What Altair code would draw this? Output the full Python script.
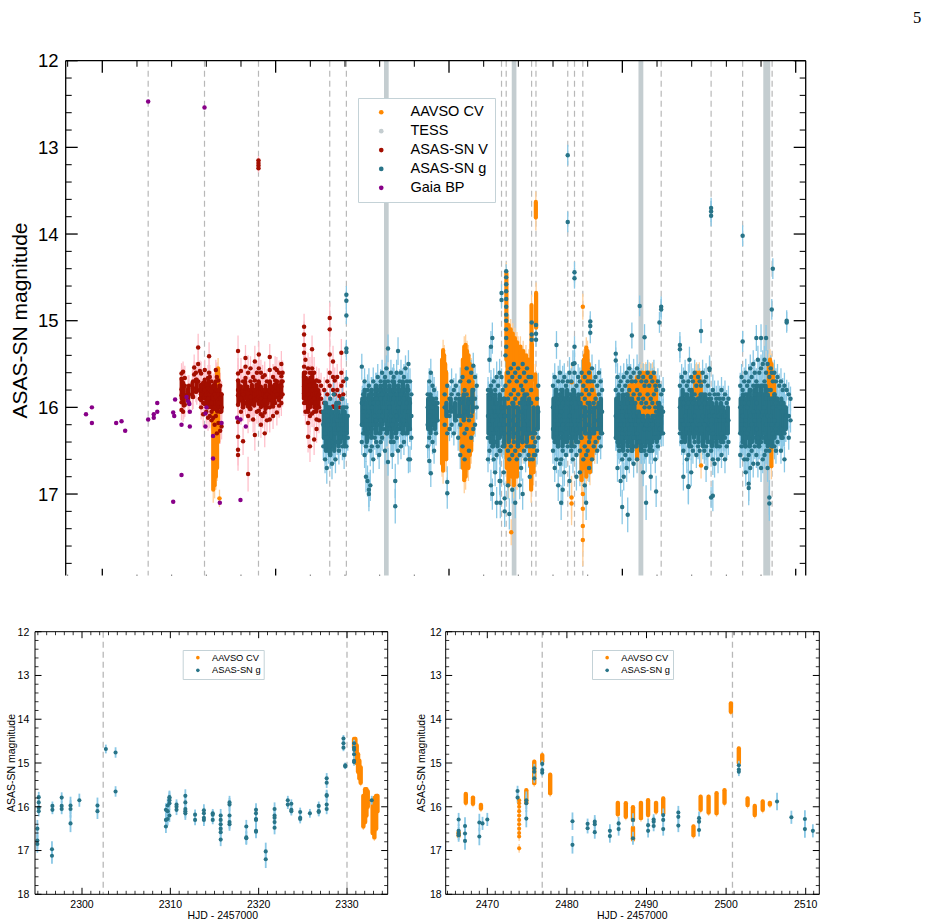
import altair as alt
import pandas as pd

FONT = "Liberation Sans"
C_AAVSO = "#ff8800"
C_AAVSO_ERR = "#ffcf99"
C_TESS = "#c4cdd0"
C_V = "#a30e00"
C_V_ERR = "#ffc0cb"
C_G = "#287488"
C_G_ERR = "#8ac8e6"
C_GAIA = "#880088"
C_DASH = "#b8b8b8"

SERIES = ["AAVSO CV", "TESS", "ASAS-SN V", "ASAS-SN g", "Gaia BP"]
COLORS = [C_AAVSO, C_TESS, C_V, C_G, C_GAIA]

# ------------------------------------------------------------------ top panel data
# times are HJD - 2457000, values are magnitudes
GAIA = [[-94, 16.08], [-60, 16.0], [-60, 16.18], [80, 16.18], [111, 16.16], [132, 16.27],
        [264.6, 16.14], [264.6, 12.47], [297, 16.08], [297, 16.12], [317, 16.05], [317, 15.95],
        [409, 16.06], [415, 16.1], [420, 15.91], [457, 16.2], [457, 16.78], [409, 17.09],
        [486, 15.88], [495, 15.93], [502, 15.96], [505, 16.05], [505, 16.22], [589.6, 12.54],
        [595, 16.22], [595, 16.07], [601, 16.0], [639, 16.33], [639, 16.59], [678, 17.1],
        [688, 16.18], [778, 16.12], [797, 16.14], [828, 16.22], [797, 17.07]]

# ASAS-SN V epochs: [t, err, mag, mag, ...]
ASASSN_V = [
    [457, 0.12, 15.61, 15.67, 15.79, 15.86, 15.94, 16.03], [466, 0.12, 15.59, 15.72, 15.82, 16.05],
    [476, 0.14, 15.66, 15.75, 15.86, 15.97], [500, 0.12, 15.75, 15.85, 15.95],
    [524, 0.14, 15.7, 15.78, 15.88], [530, 0.15, 15.54, 15.62], [540, 0.12, 15.6, 15.68, 15.82],
    [553, 0.16, 15.31, 15.5, 15.7], [563, 0.12, 15.58, 15.8, 15.9], [570, 0.14, 15.61, 15.74, 15.85, 16.0],
    [582, 0.15, 15.72, 15.95, 16.08], [591, 0.12, 15.57, 15.68, 15.8, 15.96],
    [600, 0.14, 15.73, 15.85, 15.94, 16.05], [610, 0.15, 15.66, 15.78, 15.9, 16.0, 16.12],
    [616, 0.16, 15.41, 15.6, 15.7, 15.85], [620, 0.14, 15.65, 15.8, 15.99, 16.1],
    [630, 0.12, 15.7, 15.82, 15.95, 16.05, 16.15], [640, 0.14, 15.75, 15.9, 16.02, 16.12],
    [648, 0.15, 15.73, 15.85, 16.0, 16.2], [655, 0.12, 15.57, 15.7, 15.88, 16.1],
    [661, 0.16, 15.65, 15.8, 16.03, 16.3], [670, 0.14, 15.69, 15.8, 15.95, 16.18],
    [680, 0.15, 15.75, 15.9, 16.05, 16.27], [688, 0.15, 15.85, 16.0, 16.22],
    [783, 0.18, 15.35, 15.61, 15.69, 15.8, 15.86, 15.97, 16.17, 16.34, 16.49, 16.55],
    [800, 0.15, 15.58, 15.76, 15.9, 16.05], [812, 0.16, 15.7, 15.85, 16.0, 16.39],
    [826, 0.15, 15.43, 15.53, 15.66, 15.78, 15.95], [841, 0.2, 15.6, 15.84, 15.99, 16.1, 16.77],
    [855, 0.14, 15.55, 15.7, 15.88, 16.02], [870, 0.15, 15.65, 15.8, 15.95, 16.14],
    [880, 0.18, 15.47, 15.69, 15.8, 15.92, 16.32], [892, 0.14, 15.6, 15.75, 15.9, 16.05],
    [901, 0.05, 13.15, 13.18, 13.21, 13.24],
    [903, 0.15, 15.39, 15.55, 15.72, 15.88, 16.04], [915, 0.15, 15.6, 15.78, 15.9, 16.08, 16.2],
    [925, 0.14, 15.65, 15.8, 15.95, 16.1], [937, 0.16, 15.63, 15.8, 15.92, 16.06, 16.3],
    [950, 0.14, 15.7, 15.85, 16.0, 16.15], [966, 0.15, 15.42, 15.57, 15.72, 15.88, 16.0, 16.14],
    [985, 0.15, 15.65, 15.8, 15.99, 16.1], [997, 0.14, 15.55, 15.69, 15.82, 15.95],
    [1007, 0.15, 15.57, 15.7, 15.85, 16.06], [1020, 0.14, 15.6, 15.75, 15.9, 15.98],
    [1033, 0.15, 15.5, 15.64, 15.76, 15.95], [1040, 0.14, 15.6, 15.7, 15.85],
    [1164, 0.15, 15.07, 15.16, 15.28, 15.37, 15.53, 15.65, 15.76, 15.84, 15.95],
    [1172, 0.15, 15.45, 15.6, 15.72, 15.9, 16.05], [1187, 0.18, 15.55, 15.7, 15.85, 16.05, 16.18, 16.34],
    [1198, 0.18, 15.6, 15.75, 15.9, 16.1, 16.45], [1210, 0.16, 15.33, 15.55, 15.69, 15.8, 15.92, 16.07],
    [1222, 0.18, 15.6, 15.75, 15.9, 16.05, 16.37], [1236, 0.16, 15.69, 15.84, 15.99, 16.14, 16.25],
    [1250, 0.15, 15.7, 15.85, 16.0, 16.15], [1262, 0.15, 15.75, 15.9, 16.05],
    [1280, 0.15, 15.8, 15.95, 16.1], [1298, 0.15, 15.7, 15.85, 16.0],
    [1312, 0.18, 14.97, 15.1, 15.39, 15.6, 15.75], [1331, 0.18, 15.47, 15.65, 15.8, 15.99, 16.1],
    [1341, 0.15, 15.69, 15.85, 16.0], [1355, 0.15, 15.65, 15.8, 15.95],
    [1368, 0.16, 15.87, 16.0, 16.14], [1379, 0.16, 15.37, 15.6, 15.75, 15.9], [1390, 0.15, 15.7, 15.85],
]
# nights where ASAS-SN V points pile up: [t, brightest, faintest]
V_CORE = [
    [458, 15.68, 15.9], [470, 15.75, 15.98], [495, 15.78, 15.92], [520, 15.72, 15.88], [545, 15.68, 15.82],
    [570, 15.74, 15.92], [590, 15.7, 15.9], [603, 15.76, 15.98], [615, 15.7, 15.95], [627, 15.76, 16.0],
    [639, 15.8, 16.02], [651, 15.74, 15.96], [663, 15.8, 16.05], [675, 15.75, 16.0], [687, 15.85, 16.05],
    [785, 15.7, 15.95], [798, 15.76, 15.92], [811, 15.8, 16.0], [824, 15.7, 15.9], [837, 15.76, 15.98],
    [850, 15.8, 16.02], [863, 15.74, 15.96], [876, 15.8, 15.98], [889, 15.74, 15.92], [902, 15.7, 15.96],
    [915, 15.76, 16.0], [928, 15.8, 15.98], [941, 15.75, 16.02], [954, 15.8, 15.96], [967, 15.7, 15.92],
    [980, 15.76, 15.98], [993, 15.74, 15.92], [1006, 15.7, 15.88], [1019, 15.75, 15.92], [1032, 15.7, 15.88],
    [1163, 15.6, 15.9], [1175, 15.66, 15.95], [1187, 15.7, 16.05], [1199, 15.66, 16.0], [1211, 15.6, 15.95],
    [1223, 15.7, 16.0], [1235, 15.75, 16.05], [1247, 15.8, 16.0],
]

# ASAS-SN g epochs: [t, err, mag, mag, ...]
ASASSN_G = [
    [1275, 0.15, 16.05, 16.2, 16.45], [1285, 0.16, 15.95, 16.3, 16.6], [1295, 0.18, 16.1, 16.35, 16.7],
    [1305, 0.15, 16.0, 16.15, 16.5], [1315, 0.16, 15.9, 16.25, 16.55], [1325, 0.18, 16.1, 16.4, 16.65],
    [1335, 0.15, 15.85, 16.2, 16.45], [1345, 0.16, 16.05, 16.3, 16.6], [1355, 0.15, 16.15, 16.4],
    [1365, 0.16, 15.95, 16.25, 16.5], [1375, 0.15, 16.1, 16.35], [1385, 0.16, 15.9, 16.2, 16.45],
    [1395, 0.16, 16.0, 16.3, 16.55],
    [1408, 0.1, 14.7, 14.77, 14.94, 15.32, 15.36, 15.67, 16.0, 16.3, 16.45], [1416, 0.15, 16.1, 16.35],
    [1497, 0.15, 15.53, 15.95, 16.2, 16.4], [1505, 0.14, 15.85, 16.05, 16.3],
    [1513, 0.15, 15.7, 16.0, 16.25, 16.55], [1521, 0.18, 15.9, 16.15, 16.45, 16.8],
    [1530, 0.18, 15.8, 16.1, 16.35, 16.85], [1538, 0.2, 15.75, 16.05, 16.3, 16.95, 17.0],
    [1546, 0.18, 15.95, 16.2, 16.5, 16.9], [1555, 0.15, 15.8, 16.0, 16.25, 16.45],
    [1563, 0.16, 15.7, 15.95, 16.2, 16.6], [1572, 0.14, 15.85, 16.1, 16.35],
    [1580, 0.15, 15.75, 15.9, 16.15, 16.4], [1589, 0.15, 15.65, 15.95, 16.2, 16.45],
    [1597, 0.16, 15.8, 16.05, 16.3, 16.55], [1606, 0.14, 15.7, 15.9, 16.15, 16.4],
    [1614, 0.15, 15.6, 15.85, 16.1, 16.35], [1622, 0.14, 15.75, 16.0, 16.25],
    [1631, 0.16, 15.65, 15.9, 16.15, 16.5], [1639, 0.15, 15.55, 15.8, 16.05, 16.3],
    [1648, 0.16, 15.32, 15.7, 15.95, 16.2, 16.63], [1656, 0.14, 15.75, 16.0, 16.25],
    [1665, 0.15, 15.6, 15.85, 16.1, 16.4], [1673, 0.16, 15.7, 15.95, 16.2, 16.55],
    [1681, 0.15, 15.65, 15.9, 16.15, 16.4], [1690, 0.2, 15.8, 16.05, 16.3, 16.85, 17.14],
    [1698, 0.15, 15.6, 15.85, 16.1, 16.35], [1706, 0.16, 15.35, 15.75, 16.0, 16.25, 16.5],
    [1715, 0.14, 15.7, 15.95, 16.2], [1723, 0.15, 15.6, 15.85, 16.1, 16.45],
    [1732, 0.14, 15.75, 16.0, 16.3], [1740, 0.15, 15.65, 15.9, 16.15, 16.4],
    [1749, 0.15, 15.55, 15.8, 16.05, 16.3], [1757, 0.14, 15.7, 15.95, 16.2],
    [1766, 0.16, 15.5, 15.8, 16.05, 16.6], [1775, 0.15, 15.7, 15.95, 16.25, 16.6],
    [1783, 0.14, 15.85, 16.1, 16.35],
    [1877, 0.14, 15.85, 16.0, 16.2, 16.45], [1886, 0.15, 15.7, 15.95, 16.1, 16.35, 16.62],
    [1895, 0.16, 15.6, 15.9, 16.05, 16.25, 16.76], [1905, 0.14, 15.75, 16.0, 16.15, 16.4],
    [1914, 0.15, 15.8, 15.95, 16.2, 16.5], [1925, 0.14, 15.9, 16.1, 16.3], [1934, 0.14, 15.95, 16.15],
    [1975, 0.14, 15.85, 16.0, 16.2], [1990, 0.18, 15.75, 16.05, 16.3, 16.86, 16.99],
    [2003, 0.14, 15.9, 16.1, 16.25], [2015, 0.15, 15.7, 15.85, 16.0, 16.2],
    [2028, 0.14, 15.8, 16.05, 16.3], [2040, 0.14, 15.75, 15.9, 16.15],
    [2053, 0.15, 15.85, 16.1, 16.35], [2065, 0.16, 15.7, 15.95, 16.2, 16.55],
    [2078, 0.15, 15.65, 15.9, 16.1, 16.45], [2090, 0.16, 15.8, 16.05, 16.3, 16.6],
    [2102, 0.15, 15.55, 15.85, 16.0, 16.25], [2115, 0.16, 15.7, 15.95, 16.15, 16.5],
    [2128, 0.15, 15.6, 15.9, 16.1, 16.35], [2140, 0.15, 15.52, 15.8, 16.0, 16.25],
    [2150, 0.14, 15.65, 15.9, 16.2], [2160, 0.14, 15.75, 16.0],
    [2225, 0.15, 15.8, 16.1, 16.35, 16.6], [2233, 0.15, 15.45, 15.9, 16.2, 16.5],
    [2242, 0.18, 15.3, 15.75, 16.05, 16.3, 16.9], [2250, 0.18, 15.2, 15.85, 16.15, 16.45, 17.0],
    [2258, 0.15, 15.7, 16.0, 16.3, 16.6], [2266, 0.16, 15.8, 16.1, 16.4, 16.75],
    [2275, 0.18, 15.65, 15.95, 16.25, 16.55, 17.1], [2283, 0.14, 15.75, 16.05, 16.35],
    [2292, 0.16, 15.6, 15.9, 16.2, 16.5, 16.85], [2296, 0.18, 16.1, 16.5, 16.85, 17.1],
    [2303, 0.1, 14.68, 14.76, 15.65, 16.0], [2310, 0.14, 15.8, 16.05, 16.3, 16.45],
    [2316, 0.15, 15.9, 16.2, 16.4, 16.75], [2321, 0.18, 16.1, 16.3, 17.05, 17.2],
    [2326, 0.14, 15.4, 15.75, 16.0, 16.1],
    [2330, 0.08, 14.43, 14.5, 14.58, 14.66, 14.75, 14.84, 14.93, 15.0, 15.1, 15.2, 15.3],
    [2340, 0.16, 15.6, 15.9, 16.2, 16.5, 16.9], [2348, 0.18, 15.7, 16.0, 16.3, 16.6, 17.23],
    [2357, 0.15, 15.55, 15.85, 16.15, 16.45], [2365, 0.16, 15.65, 15.95, 16.25, 16.55, 16.95],
    [2374, 0.15, 15.5, 15.8, 16.1, 16.4], [2382, 0.18, 15.6, 15.9, 16.2, 16.5, 17.1],
    [2391, 0.15, 15.7, 16.0, 16.3, 16.6], [2399, 0.15, 15.55, 15.85, 16.15, 16.45],
    [2408, 0.16, 15.65, 15.95, 16.25, 16.55, 16.9], [2416, 0.15, 15.75, 16.05, 16.35, 16.7],
    [2425, 0.18, 15.5, 15.8, 16.1, 16.4, 17.0], [2433, 0.15, 15.6, 15.9, 16.2, 16.5],
    [2442, 0.15, 15.7, 16.0, 16.3, 16.6], [2450, 0.15, 15.55, 15.85, 16.15, 16.45],
    [2459, 0.15, 15.65, 15.95, 16.25, 16.55], [2466, 0.16, 16.3, 16.45, 16.6, 16.8],
    [2474, 0.14, 15.65, 15.8, 15.95, 16.3], [2477, 0.08, 15.02, 15.16, 15.22],
    [2483, 0.14, 16.35, 16.45, 16.6], [2490, 0.14, 16.3, 16.45, 16.55],
    [2497, 0.14, 16.3, 16.4, 16.55], [2502, 0.08, 15.05, 15.15, 15.22],
    [2508, 0.16, 15.9, 16.25, 16.5], [2515, 0.15, 15.75, 16.05, 16.35],
    [2600, 0.15, 15.75, 16.0, 16.25, 16.5], [2610, 0.16, 15.65, 15.9, 16.15, 16.4, 16.7],
    [2620, 0.16, 15.28, 15.8, 16.05, 16.3, 16.6], [2630, 0.18, 15.7, 15.95, 16.2, 16.45, 16.9],
    [2640, 0.15, 15.6, 15.85, 16.1, 16.35, 16.65], [2647, 0.2, 15.8, 16.05, 16.3, 16.6, 17.1],
    [2656, 0.18, 15.7, 15.95, 16.2, 16.5, 16.95], [2665, 0.16, 15.65, 15.9, 16.15, 16.4, 16.75],
    [2675, 0.15, 15.75, 16.0, 16.25, 16.55], [2685, 0.12, 13.09, 13.86, 15.7, 15.95, 16.2, 16.45],
    [2695, 0.18, 15.6, 15.85, 16.1, 16.35, 16.85], [2705, 0.15, 15.7, 15.95, 16.2, 16.5],
    [2715, 0.16, 15.5, 15.8, 16.05, 16.3, 16.6],
    [2724, 0.12, 14.44, 14.51, 15.3, 15.49, 15.6, 15.9, 16.15, 16.45],
    [2735, 0.16, 15.75, 16.0, 16.25, 16.55, 16.8], [2745, 0.15, 15.65, 15.9, 16.15, 16.4],
    [2755, 0.16, 15.7, 15.95, 16.2, 16.5, 16.75], [2765, 0.15, 15.6, 15.85, 16.1, 16.35],
    [2775, 0.15, 15.75, 16.0, 16.25, 16.6], [2783, 0.18, 15.65, 15.9, 16.15, 16.45, 16.9],
    [2791, 0.2, 15.8, 16.05, 16.3, 16.55, 17.1], [2800, 0.15, 15.7, 15.95, 16.2, 16.5],
    [2808, 0.16, 15.6, 15.85, 16.1, 16.4, 16.7], [2815, 0.12, 15.01, 15.06, 15.14, 15.7, 16.0, 16.25],
    [2825, 0.16, 15.55, 15.8, 16.05, 16.3, 16.6], [2835, 0.15, 15.7, 15.95, 16.2, 16.45],
    [2845, 0.15, 15.65, 15.9, 16.15, 16.4], [2855, 0.15, 15.75, 16.0, 16.25, 16.5],
    [2865, 0.15, 15.6, 15.85, 16.1, 16.35], [2875, 0.15, 15.7, 15.95, 16.2, 16.45],
    [2883, 0.14, 15.8, 16.05, 16.3],
    [2962, 0.15, 15.38, 15.46, 15.8, 16.1, 16.35], [2972, 0.16, 15.65, 15.9, 16.15, 16.4, 16.7],
    [2982, 0.15, 15.75, 16.0, 16.25, 16.5], [2990, 0.18, 15.7, 15.95, 16.2, 16.45, 16.85],
    [2999, 0.2, 15.8, 16.05, 16.3, 16.6, 17.15], [3008, 0.16, 15.65, 15.9, 16.15, 16.4, 16.8],
    [3017, 0.15, 15.75, 16.0, 16.25, 16.55], [3025, 0.16, 15.6, 15.85, 16.1, 16.35, 16.7],
    [3031, 0.2, 15.7, 15.95, 16.2, 16.5, 17.24], [3040, 0.16, 15.55, 15.8, 16.05, 16.3, 16.6],
    [3048, 0.15, 15.65, 15.9, 16.15, 16.45], [3055, 0.15, 15.17, 15.7, 15.95, 16.2, 16.5],
    [3065, 0.16, 15.6, 15.85, 16.1, 16.35, 16.65], [3075, 0.15, 15.7, 15.95, 16.2, 16.45],
    [3085, 0.16, 15.55, 15.8, 16.05, 16.3, 16.6], [3093, 0.15, 15.65, 15.9, 16.15, 16.4],
    [3100, 0.12, 14.83, 15.6, 15.85, 16.1, 16.4], [3110, 0.15, 15.7, 15.95, 16.2, 16.5],
    [3120, 0.16, 15.65, 15.9, 16.15, 16.45, 16.75], [3128, 0.15, 15.19, 15.75, 16.0, 16.25, 16.5],
    [3137, 0.2, 15.7, 15.95, 16.2, 16.55, 17.1], [3146, 0.15, 15.6, 15.85, 16.1, 16.4],
    [3155, 0.15, 15.75, 16.0, 16.25, 16.5], [3164, 0.16, 15.65, 15.9, 16.15, 16.45, 16.8],
    [3173, 0.15, 15.7, 15.95, 16.2, 16.5], [3182, 0.15, 15.6, 15.85, 16.1, 16.35],
    [3190, 0.16, 15.75, 16.0, 16.3, 16.6], [3195, 0.18, 15.8, 16.05, 16.35, 16.97],
    [3205, 0.15, 15.7, 15.95, 16.2, 16.45], [3214, 0.12, 15.02, 15.75, 16.0, 16.25],
    [3224, 0.12, 14.84, 14.87, 15.85, 16.1, 16.3], [3235, 0.15, 15.8, 16.05, 16.3],
    [3332, 0.15, 15.28, 15.33, 15.75, 16.0, 16.3], [3342, 0.15, 15.65, 15.9, 16.15, 16.4],
    [3352, 0.16, 15.7, 15.95, 16.2, 16.5, 16.8], [3362, 0.15, 15.6, 15.85, 16.1, 16.35],
    [3372, 0.16, 15.75, 16.0, 16.25, 16.6], [3381, 0.2, 15.7, 15.95, 16.2, 16.55, 16.91, 16.92],
    [3387, 0.15, 15.45, 15.8, 16.05, 16.3], [3397, 0.16, 15.65, 15.9, 16.15, 16.45, 16.75],
    [3407, 0.15, 15.7, 15.95, 16.2, 16.5], [3417, 0.15, 15.6, 15.85, 16.1, 16.4],
    [3427, 0.15, 15.75, 16.0, 16.25, 16.55], [3437, 0.15, 15.65, 15.9, 16.15, 16.45],
    [3446, 0.15, 15.7, 15.95, 16.2, 16.5], [3454, 0.14, 15.12, 15.75, 16.0, 16.3],
    [3463, 0.15, 15.6, 15.85, 16.1, 16.4], [3473, 0.15, 15.7, 15.95, 16.2, 16.5],
    [3483, 0.16, 15.65, 15.9, 16.15, 16.45, 16.7], [3493, 0.15, 15.75, 16.0, 16.25, 16.55],
    [3503, 0.15, 15.55, 15.57, 15.85, 16.1, 16.4],
    [3512, 0.12, 13.7, 13.74, 13.79, 15.9, 16.2, 16.5, 17.04],
    [3522, 0.18, 15.8, 16.05, 16.3, 16.6, 17.02], [3532, 0.16, 15.85, 16.1, 16.35, 16.65],
    [3542, 0.15, 15.9, 16.15, 16.4], [3552, 0.16, 15.85, 16.1, 16.35, 16.6],
    [3562, 0.15, 15.9, 16.15, 16.45], [3572, 0.15, 15.8, 16.05, 16.3, 16.55],
    [3582, 0.15, 15.9, 16.15, 16.4], [3592, 0.16, 15.85, 16.1, 16.35, 16.6],
    [3602, 0.15, 15.95, 16.2, 16.45], [3612, 0.15, 15.9, 16.15, 16.4],
    [3680, 0.15, 15.75, 16.0, 16.3, 16.55], [3688, 0.15, 15.65, 15.9, 16.2, 16.45],
    [3694, 0.12, 14.02, 15.24, 15.8, 16.1, 16.4], [3703, 0.16, 15.7, 15.95, 16.25, 16.6],
    [3712, 0.16, 15.6, 15.85, 16.15, 16.45, 16.75], [3720, 0.15, 15.75, 16.0, 16.3, 16.6],
    [3729, 0.2, 15.7, 15.95, 16.25, 16.55, 16.88, 16.93], [3738, 0.16, 15.55, 15.8, 16.1, 16.4, 16.7],
    [3746, 0.15, 15.65, 15.9, 16.2, 16.5], [3755, 0.16, 15.5, 15.75, 16.05, 16.35, 16.65],
    [3764, 0.15, 15.6, 15.85, 16.15, 16.45], [3773, 0.15, 15.2, 15.7, 15.95, 16.25, 16.55],
    [3782, 0.16, 15.45, 15.75, 16.05, 16.35, 16.65], [3790, 0.15, 15.6, 15.85, 16.15, 16.45],
    [3800, 0.16, 15.2, 15.55, 15.8, 16.1, 16.4, 16.7], [3810, 0.16, 15.5, 15.75, 16.05, 16.35, 16.6],
    [3820, 0.16, 15.45, 15.7, 16.0, 16.3, 16.55], [3829, 0.15, 15.2, 15.6, 15.9, 16.2, 16.5],
    [3838, 0.16, 15.5, 15.8, 16.1, 16.4, 16.7], [3848, 0.2, 15.65, 15.9, 16.2, 16.5, 17.04, 17.11],
    [3856, 0.15, 15.55, 15.8, 16.1, 16.4], [3862, 0.12, 14.87, 15.6, 15.9, 16.2, 16.45],
    [3868, 0.12, 14.4, 15.7, 16.0, 16.3], [3877, 0.15, 15.6, 15.85, 16.15, 16.45],
    [3886, 0.15, 15.7, 15.95, 16.25, 16.5], [3895, 0.15, 15.65, 15.9, 16.2, 16.4],
    [3905, 0.14, 15.75, 16.0, 16.3], [3915, 0.15, 15.7, 15.95, 16.25, 16.5],
    [3925, 0.14, 15.8, 16.05, 16.35], [3935, 0.15, 15.75, 16.0, 16.3, 16.6],
    [3948, 0.12, 15.0, 15.02, 15.8, 16.1], [3960, 0.14, 15.85, 16.1, 16.35], [3970, 0.14, 15.9, 16.15],
]
# nights where ASAS-SN g points pile up: [t, brightest, faintest]
G_CORE = [
    [1278, 16.05, 16.35], [1290, 15.95, 16.5], [1302, 16.1, 16.4], [1314, 16.0, 16.55], [1326, 16.05, 16.35],
    [1338, 16.1, 16.5], [1350, 15.95, 16.3], [1362, 16.05, 16.45], [1374, 16.1, 16.4], [1386, 16.0, 16.35],
    [1398, 16.05, 16.45], [1410, 16.1, 16.3],
    [1500, 15.9, 16.2], [1513, 15.8, 16.3], [1526, 15.95, 16.4], [1539, 15.85, 16.25], [1552, 15.8, 16.35],
    [1565, 15.9, 16.2], [1578, 15.75, 16.3], [1591, 15.85, 16.15], [1604, 15.75, 16.3], [1617, 15.8, 16.2],
    [1630, 15.7, 16.15], [1643, 15.85, 16.3], [1656, 15.75, 16.2], [1669, 15.8, 16.35], [1682, 15.7, 16.25],
    [1695, 15.85, 16.3], [1708, 15.75, 16.15], [1721, 15.8, 16.25], [1734, 15.7, 16.3], [1747, 15.85, 16.2],
    [1760, 15.75, 16.3], [1773, 15.9, 16.25],
    [1880, 15.9, 16.25], [1893, 15.85, 16.3], [1906, 15.9, 16.2], [1919, 15.95, 16.25], [1930, 16.0, 16.15],
    [1985, 15.95, 16.1], [2010, 15.9, 16.05], [2035, 15.95, 16.15], [2060, 15.9, 16.1], [2085, 15.85, 16.15],
    [2110, 15.9, 16.1], [2135, 15.8, 16.05],
    [2228, 15.85, 16.3], [2241, 15.8, 16.4], [2254, 15.9, 16.45], [2267, 15.85, 16.3], [2280, 15.95, 16.45],
    [2293, 15.85, 16.35], [2306, 16.0, 16.3], [2319, 15.9, 16.45], [2345, 16.0, 16.4], [2371, 15.95, 16.35],
    [2397, 16.0, 16.45], [2423, 15.9, 16.4], [2436, 15.85, 16.3], [2449, 15.95, 16.4], [2462, 15.9, 16.3],
    [2488, 16.0, 16.3], [2512, 16.0, 16.25],
    [2603, 15.9, 16.35], [2616, 15.8, 16.4], [2629, 15.9, 16.45], [2642, 15.85, 16.3], [2655, 15.8, 16.45],
    [2668, 15.9, 16.35], [2681, 15.8, 16.4], [2694, 15.9, 16.3], [2707, 15.85, 16.45], [2720, 15.8, 16.35],
    [2733, 15.9, 16.4], [2746, 15.85, 16.3], [2759, 15.95, 16.35], [2785, 16.0, 16.3], [2811, 15.95, 16.35],
    [2837, 16.0, 16.3], [2863, 15.95, 16.25], [2876, 15.9, 16.3],
    [2965, 15.9, 16.35], [2978, 15.85, 16.45], [2991, 15.95, 16.4], [3004, 15.85, 16.5], [3017, 15.9, 16.35],
    [3030, 15.85, 16.45], [3043, 15.95, 16.4], [3056, 15.9, 16.5], [3069, 15.95, 16.35], [3082, 16.1, 16.45],
    [3095, 16.05, 16.4], [3108, 16.1, 16.5], [3121, 16.1, 16.4], [3134, 16.15, 16.45], [3147, 16.1, 16.4],
    [3160, 16.15, 16.5], [3173, 16.1, 16.4], [3186, 16.15, 16.35], [3199, 16.1, 16.4], [3212, 15.95, 16.35],
    [3225, 16.0, 16.3],
    [3335, 15.9, 16.25], [3348, 15.8, 16.35], [3361, 15.9, 16.4], [3374, 15.85, 16.3], [3387, 15.9, 16.45],
    [3400, 15.8, 16.3], [3413, 15.9, 16.35], [3426, 15.95, 16.3], [3439, 15.9, 16.4], [3452, 15.85, 16.3],
    [3465, 15.9, 16.45], [3478, 15.85, 16.35], [3491, 15.95, 16.4], [3504, 15.9, 16.3], [3517, 15.95, 16.45],
    [3530, 16.0, 16.35], [3543, 15.95, 16.45], [3556, 16.0, 16.35], [3569, 15.95, 16.4], [3582, 16.0, 16.35],
    [3595, 16.05, 16.3], [3608, 16.0, 16.3],
    [3683, 15.9, 16.3], [3696, 15.85, 16.4], [3709, 15.9, 16.45], [3722, 15.85, 16.35], [3735, 15.8, 16.45],
    [3748, 15.9, 16.4], [3761, 15.8, 16.3], [3774, 15.75, 16.4], [3787, 15.85, 16.45], [3800, 15.75, 16.35],
    [3813, 15.85, 16.3], [3826, 15.75, 16.4], [3839, 15.85, 16.45], [3852, 15.9, 16.35], [3865, 15.9, 16.45],
    [3878, 15.85, 16.35], [3891, 15.9, 16.3], [3904, 15.95, 16.3], [3917, 15.9, 16.35], [3930, 15.95, 16.3],
    [3943, 16.0, 16.25],
]

# AAVSO nightly ranges: [t, brightest, faintest]
AAVSO_RANGES = [
    [640, 16.0, 16.95], [648, 15.9, 16.9], [655, 15.8, 16.8], [662, 15.6, 16.7], [668, 15.55, 16.4],
    [1960, 15.45, 16.65], [1966, 15.34, 16.73], [1972, 15.4, 16.5], [1978, 15.5, 16.4], [1984, 15.6, 16.6],
    [2072, 15.9, 16.5], [2080, 15.45, 16.7], [2088, 15.3, 16.84], [2096, 15.28, 16.8], [2104, 15.35, 16.6],
    [2112, 15.4, 16.7], [2120, 15.5, 16.55], [2128, 15.55, 16.5], [2136, 15.7, 16.3],
    [2331, 14.45, 15.45], [2332.2, 15.6, 16.45], [2333.2, 15.75, 16.7],
    [2338, 15.1, 16.6], [2344, 15.05, 16.9], [2350, 15.15, 16.7], [2356, 15.1, 16.5], [2362, 15.2, 16.8],
    [2368, 15.15, 16.6], [2374, 15.25, 16.9], [2380, 15.2, 16.7], [2386, 15.3, 16.6], [2392, 15.25, 16.8],
    [2398, 15.3, 16.5], [2404, 15.35, 16.4], [2412, 15.3, 16.35], [2420, 15.4, 16.5], [2428, 15.35, 16.4],
    [2436, 15.45, 16.3], [2444, 15.4, 16.45], [2452, 15.5, 16.35], [2460, 15.45, 16.3],
    [2468, 15.7, 16.67], [2474, 15.6, 16.95], [2476, 14.82, 15.46], [2478, 15.27, 15.69],
    [2488, 15.85, 16.75], [2492, 15.8, 16.3], [2498, 15.62, 16.15], [2501, 13.63, 13.81],
    [2502.5, 14.68, 15.08], [2505, 15.8, 16.2],
    [2765, 15.9, 16.84], [2772, 15.6, 16.5], [2778, 15.45, 16.7], [2785, 15.4, 16.6], [2792, 15.31, 16.8],
    [2799, 15.35, 16.7], [2806, 15.5, 16.6], [2813, 15.6, 16.75], [2820, 15.7, 16.5], [2827, 15.75, 16.6],
    [2834, 15.8, 16.4], [2841, 15.85, 16.5], [2848, 15.9, 16.3], [2855, 16.0, 16.4],
    [3040, 15.75, 16.1], [3055, 15.7, 16.5], [3070, 15.75, 16.0], [3085, 15.65, 16.6], [3095, 15.65, 16.1],
    [3105, 15.62, 16.1], [3115, 15.6, 16.15], [3125, 15.62, 16.1], [3135, 15.6, 16.4], [3145, 15.62, 16.1],
    [3155, 15.6, 16.2], [3165, 15.62, 16.1], [3175, 15.6, 16.1], [3185, 15.65, 16.15], [3195, 15.7, 16.1],
    [3420, 15.62, 15.85], [3428, 15.6, 15.8], [3436, 15.63, 15.9], [3444, 15.6, 15.85], [3452, 15.7, 15.95],
    [3845, 15.5, 15.9], [3852, 15.45, 15.95], [3860, 15.5, 16.0], [3868, 15.6, 15.9], [3876, 15.7, 16.0],
    [3860, 16.3, 16.68],
]
# isolated AAVSO points: [t, err, mag]
AAVSO_POINTS = [
    [2359, 0.15, 17.44], [2707, 0.2, 15.71], [2707, 0.2, 16.41], [2707, 0.25, 17.04], [2707, 0.25, 17.11],
    [2772, 0.15, 14.84], [2772, 0.25, 17.0], [2772, 0.25, 17.17], [2772, 0.3, 17.37], [2772, 0.3, 17.53],
    [3454, 0.15, 16.67], [676, 0.1, 17.05],
]

TESS_START = [1625, 2362, 3093, 3813]
TESS_END = [1652, 2389, 3121, 3853]
OUTBURSTS = [264.6, 589.6, 901, 1312, 1408, 2303, 2330, 2476.5, 2501.7, 2685, 2724, 2772,
             3224, 3512, 3694, 3864]

# ------------------------------------------------------------------ bottom panels data
BL_G = [
    [2295.1, 0.12, 15.78, 15.9, 16.02, 16.1], [2294.95, 0.2, 16.5, 16.77, 16.85],
    [2296.6, 0.18, 16.97, 17.12], [2296.65, 0.1, 15.98, 16.07], [2297.7, 0.12, 15.79, 15.98, 16.05],
    [2298.7, 0.2, 15.97, 16.05, 16.38], [2299.7, 0.15, 15.85], [2301.75, 0.18, 15.97, 16.1],
    [2302.7, 0.1, 14.68], [2303.8, 0.12, 14.76, 15.65],
    [2309.5, 0.15, 16.07, 16.3, 16.45], [2309.7, 0.15, 16.28, 16.1, 15.97],
    [2309.9, 0.15, 15.8, 15.92, 16.2, 15.85, 15.78], [2310.7, 0.12, 15.95, 16.0, 16.07],
    [2311.7, 0.15, 15.75, 15.9, 16.05, 16.1, 16.15], [2312.8, 0.12, 16.18, 16.3],
    [2313.8, 0.14, 16.08, 16.15, 16.25, 16.3], [2314.8, 0.1, 16.15, 16.18, 16.3],
    [2315.7, 0.15, 16.2, 16.3, 16.4, 16.5, 16.58, 16.75], [2316.7, 0.15, 16.35, 16.4, 16.2, 15.95, 15.9],
    [2318.6, 0.15, 16.45, 16.7, 16.72], [2319.7, 0.15, 16.07, 16.15, 16.28, 16.3, 16.55, 16.57],
    [2320.8, 0.2, 17.02, 17.2], [2321.8, 0.15, 16.05, 16.2, 16.35, 16.48, 16.25],
    [2323.3, 0.1, 15.85, 15.95], [2323.7, 0.1, 15.93, 16.07, 16.1], [2324.7, 0.1, 16.12, 16.25, 16.28],
    [2325.8, 0.1, 16.15], [2326.8, 0.1, 15.98, 16.1, 16.12],
    [2327.7, 0.12, 15.35, 15.45, 15.75, 15.73, 15.95, 16.05],
    [2329.6, 0.08, 14.44, 14.55, 14.65], [2329.8, 0.06, 15.05, 15.08],
    [2330.8, 0.08, 14.65, 14.7, 14.55, 14.8, 14.95, 14.98], [2332.8, 0.1, 15.85],
]
BL_A = [
    [2330.8, 14.45, 14.65], [2330.95, 14.45, 14.85], [2331.1, 14.6, 15.0], [2331.25, 14.8, 15.2],
    [2331.4, 14.95, 15.35], [2331.55, 15.1, 15.45],
    [2331.85, 15.75, 16.45], [2332.05, 15.6, 16.35], [2332.2, 15.6, 16.2], [2332.35, 15.65, 16.0],
    [2332.9, 15.85, 16.6], [2333.1, 15.8, 16.7], [2333.3, 15.75, 16.5], [2333.45, 15.75, 16.1],
]
BR_G = [
    [2466.4, 0.15, 16.29, 16.55, 16.61, 16.65], [2467.2, 0.2, 16.44, 16.61, 16.78],
    [2469.0, 0.2, 16.36, 16.68], [2469.4, 0.15, 16.38], [2470.0, 0.15, 16.29],
    [2473.8, 0.12, 15.64, 15.79], [2474.9, 0.2, 15.85, 15.92, 16.27], [2475.9, 0.1, 15.12, 15.2, 15.35],
    [2476.9, 0.08, 15.02, 15.16, 15.22], [2480.7, 0.2, 16.33, 16.87], [2482.6, 0.12, 16.39, 16.49],
    [2483.5, 0.15, 16.34, 16.4, 16.58], [2485.4, 0.15, 16.55, 16.67], [2486.5, 0.15, 16.38, 16.51],
    [2488.3, 0.15, 16.3, 16.72], [2490.2, 0.15, 16.42, 16.55], [2490.9, 0.12, 16.29, 16.34, 16.44],
    [2492.1, 0.15, 16.19, 16.3, 16.51], [2494.0, 0.15, 16.13, 16.23, 16.43],
    [2496.6, 0.15, 16.26, 16.34, 16.53], [2501.6, 0.1, 15.05, 15.15, 15.2], [2506.4, 0.2, 15.88],
    [2508.2, 0.15, 16.24], [2509.9, 0.2, 16.28, 16.51], [2510.9, 0.15, 16.55],
]
BR_A = [
    [2466.4, 16.58, 16.67], [2467.3, 15.71, 15.91], [2468.2, 15.79, 15.93], [2469.2, 15.96, 16.04],
    [2474.9, 15.62, 15.91], [2475.9, 14.97, 15.46], [2476.9, 14.82, 14.97], [2477.9, 15.27, 15.69],
    [2486.4, 15.91, 16.17], [2487.4, 15.92, 16.23], [2488.3, 16.01, 16.3], [2488.3, 16.48, 16.75],
    [2489.3, 15.91, 16.26], [2490.2, 15.85, 16.19], [2491.2, 15.91, 16.11], [2492.1, 15.81, 16.15],
    [2495.9, 16.45, 16.65], [2496.8, 15.77, 16.07], [2497.8, 15.77, 16.13], [2498.8, 15.69, 16.15],
    [2499.8, 15.62, 15.91], [2500.6, 13.64, 13.83], [2501.6, 14.67, 15.0], [2502.7, 15.81, 15.96],
    [2503.6, 15.98, 16.19], [2504.6, 15.88, 16.07], [2505.5, 15.91, 15.95],
]
BR_A_POINTS = [[2474.0, 0.1, m] for m in (15.85, 15.92, 16.0, 16.1, 16.2, 16.3, 16.4, 16.5, 16.6, 16.68, 16.95)]
BL_DASH = [2302.4, 2330.0]
BR_DASH = [2476.9, 2500.8]

TOP_XT_MAJ = [0, 1000, 2000, 3000, 4000]
MAG_MAJ = [12, 13, 14, 15, 16, 17, 18]


# ------------------------------------------------------------------ helpers
def epochs_df(epochs, series, ecol):
    rows = []
    for ep in epochs:
        t, e = ep[0], ep[1]
        for m in ep[2:]:
            rows.append({"t": t, "m": m, "lo": m - e, "hi": m + e, "series": series, "ec": ecol})
    return pd.DataFrame(rows)


def ranges_df(rows, pad_lo=0.0, pad_hi=0.0):
    return pd.DataFrame({"t": [r[0] for r in rows], "lo": [r[1] - pad_lo for r in rows],
                         "hi": [r[2] + pad_hi for r in rows]})


def frange(a, b, step):
    out, v = [], a
    while v <= b + 1e-9:
        out.append(round(v, 3))
        v += step
    return out


def frame_layers(xs, ys, x0, x1, y0, y1, xmaj, xmin, ymaj, ymin, Lmaj, Lmin, sw, yfull=None):
    yb = y1 if yfull is None else yfull
    one = pd.DataFrame({"k": [0]})
    out = []
    for vals, L, w in ((xmaj, Lmaj, sw), (xmin, Lmin, sw * 0.8)):
        d = pd.DataFrame({"v": vals})
        out.append(alt.Chart(d).mark_rule(strokeWidth=w, color="black").encode(
            x=alt.X("v:Q", scale=xs, axis=None), y=alt.value(y0), y2=alt.value(y0 + L)))
        if yb - L < y1:
            out.append(alt.Chart(d).mark_rule(strokeWidth=w, color="black").encode(
                x=alt.X("v:Q", scale=xs, axis=None), y=alt.value(yb - L), y2=alt.value(y1)))
    for vals, L, w in ((ymaj, Lmaj, sw), (ymin, Lmin, sw * 0.8)):
        d = pd.DataFrame({"v": vals})
        out.append(alt.Chart(d).mark_rule(strokeWidth=w, color="black").encode(
            y=alt.Y("v:Q", scale=ys, axis=None), x=alt.value(x0), x2=alt.value(x0 + L)))
        out.append(alt.Chart(d).mark_rule(strokeWidth=w, color="black").encode(
            y=alt.Y("v:Q", scale=ys, axis=None), x=alt.value(x1 - L), x2=alt.value(x1)))
    out.append(alt.Chart(one).mark_rule(strokeWidth=sw, color="black").encode(
        x=alt.value(x0), y=alt.value(y0), y2=alt.value(y1)))
    out.append(alt.Chart(one).mark_rule(strokeWidth=sw, color="black").encode(
        x=alt.value(x1), y=alt.value(y0), y2=alt.value(y1)))
    out.append(alt.Chart(one).mark_rule(strokeWidth=sw, color="black").encode(
        x=alt.value(x0), x2=alt.value(x1), y=alt.value(y0)))
    if yfull is None:
        out.append(alt.Chart(one).mark_rule(strokeWidth=sw, color="black").encode(
            x=alt.value(x0), x2=alt.value(x1), y=alt.value(y1)))
    return out


def text_layer(text, x, y, size, angle=0, align="center", font=FONT):
    return alt.Chart(pd.DataFrame({"s": [text]})).mark_text(
        font=font, fontSize=size, angle=angle, align=align, baseline="alphabetic", color="black").encode(
        x=alt.value(x), y=alt.value(y), text="s:N")


def rule_range(df, xs, ys, color, width, cap="butt"):
    return alt.Chart(df).mark_rule(strokeWidth=width, strokeCap=cap, color=color).encode(
        x=alt.X("t:Q", scale=xs, axis=None), y=alt.Y("lo:Q", scale=ys, axis=None), y2="hi:Q")


def point_layer(df, xs, ys, size, color_enc):
    return alt.Chart(df).mark_circle(size=size, opacity=1).encode(
        x=alt.X("t:Q", scale=xs, axis=None), y=alt.Y("m:Q", scale=ys, axis=None), color=color_enc)


# ------------------------------------------------------------------ top panel
TX0, TX1, TY0, TY1 = 65.7, 805.7, 60.7, 575.5
xs_top = alt.Scale(domain=[0, 4000], range=[102.3, 795.7], nice=False, zero=False)
ys_top = alt.Scale(domain=[12, 18], range=[60.7, 580.7], nice=False, zero=False)
X_T = alt.X("t:Q", scale=xs_top, axis=None)

LEG_TOP = alt.Legend(title=None, orient="none", legendX=358, legendY=98, direction="vertical",
                     symbolType="circle", symbolSize=22, labelFont=FONT, labelFontSize=14.5,
                     labelColor="black", padding=7, symbolOffset=9, labelOffset=22, rowPadding=3.9,
                     strokeColor="#c4d2d7", fillColor="white")
COL_TOP = alt.Color("series:N", scale=alt.Scale(domain=SERIES, range=COLORS), legend=LEG_TOP)

gaia_df = pd.DataFrame({"t": [p[0] for p in GAIA], "m": [p[1] for p in GAIA], "series": "Gaia BP"})
v_df = epochs_df(ASASSN_V, "ASAS-SN V", C_V_ERR)
g_df = epochs_df(ASASSN_G, "ASAS-SN g", C_G_ERR)
ap_df = pd.DataFrame([{"t": p[0], "m": p[2], "lo": p[2] - p[1], "hi": p[2] + p[1],
                       "series": "AAVSO CV"} for p in AAVSO_POINTS])
err_top = pd.concat([v_df[["t", "lo", "hi", "ec"]], g_df[["t", "lo", "hi", "ec"]],
                     ranges_df(V_CORE, 0.15, 0.15).assign(ec=C_V_ERR),
                     ranges_df(G_CORE, 0.15, 0.15).assign(ec=C_G_ERR)], ignore_index=True)

top_layers = [
    alt.Chart(pd.DataFrame({"t0": TESS_START, "t1": TESS_END})).mark_rect(color=C_TESS).encode(
        x=alt.X("t0:Q", scale=xs_top, axis=None), x2="t1:Q", y=alt.value(TY0), y2=alt.value(TY1)),
    alt.Chart(pd.DataFrame({"t": OUTBURSTS})).mark_rule(color=C_DASH, strokeDash=[6, 4], strokeWidth=1.2).encode(
        x=X_T, y=alt.value(TY0), y2=alt.value(TY1)),
    rule_range(pd.concat([ranges_df(AAVSO_RANGES, 0.12, 0.15), ap_df[["t", "lo", "hi"]]]),
               xs_top, ys_top, C_AAVSO_ERR, 1.3),
    alt.Chart(err_top).mark_rule(strokeWidth=1.3).encode(
        x=X_T, y=alt.Y("lo:Q", scale=ys_top, axis=None), y2="hi:Q", color=alt.Color("ec:N", scale=None)),
    rule_range(ranges_df(AAVSO_RANGES), xs_top, ys_top, C_AAVSO, 4.2, "round"),
    point_layer(ap_df, xs_top, ys_top, 20, COL_TOP),
    rule_range(ranges_df(V_CORE), xs_top, ys_top, C_V, 4.2, "round"),
    point_layer(v_df, xs_top, ys_top, 20, COL_TOP),
    rule_range(ranges_df(G_CORE), xs_top, ys_top, C_G, 4.4, "round"),
    point_layer(g_df, xs_top, ys_top, 20, COL_TOP),
    point_layer(gaia_df, xs_top, ys_top, 20, COL_TOP),
]
top_layers += frame_layers(xs_top, ys_top, TX0, TX1, TY0, TY1, TOP_XT_MAJ,
                           [v for v in frange(-200, 4000, 200) if v % 1000 != 0],
                           MAG_MAJ[:6], [v for v in frange(12.2, 17.8, 0.2) if abs(v - round(v)) > 1e-6],
                           12, 6, 1.3, yfull=580.7)
top_layers.append(alt.Chart(pd.DataFrame({"v": MAG_MAJ[:6]})).mark_text(
    font=FONT, fontSize=18.5, align="right", baseline="alphabetic", dy=6.6, color="black").encode(
    x=alt.value(58.5), y=alt.Y("v:Q", scale=ys_top, axis=None), text=alt.Text("v:Q", format="d")))
top_layers.append(text_layer("ASAS-SN magnitude", 26.7, 320.5, 21, angle=270))
top_layers.append(text_layer("5", 917, 22.7, 16.5, font="Liberation Serif"))
top_panel = alt.layer(*top_layers)


# ------------------------------------------------------------------ bottom panels
BY0, BY1 = 631.7, 894.3


def bottom_panel(x0, x1, xdom, xrng, g_epochs, a_ranges, a_points, dashes, xmaj, xmin,
                 legx, ylab_x, ytitle_x, xtitle_cx):
    xs = alt.Scale(domain=xdom, range=xrng, nice=False, zero=False)
    ys = alt.Scale(domain=[12, 18], range=[BY0, BY1], nice=False, zero=False)
    leg = alt.Legend(title=None, orient="none", legendX=legx, legendY=650, direction="vertical",
                     symbolType="circle", symbolSize=13, labelFont=FONT, labelFontSize=9.3,
                     labelColor="black", padding=3, symbolOffset=7.5, labelOffset=9.5, rowPadding=2.7,
                     strokeColor="#c4d2d7", fillColor="white")
    col = alt.Color("series:N", scale=alt.Scale(domain=["AAVSO CV", "ASAS-SN g"], range=[C_AAVSO, C_G]),
                    legend=leg)
    gdf = epochs_df(g_epochs, "ASAS-SN g", C_G_ERR)
    apdf = pd.DataFrame([{"t": p[0], "m": p[2], "lo": p[2] - p[1], "hi": p[2] + p[1],
                          "series": "AAVSO CV"} for p in a_points]) if a_points else \
        pd.DataFrame({"t": [], "m": [], "lo": [], "hi": [], "series": []})
    layers = [
        alt.Chart(pd.DataFrame({"t": dashes})).mark_rule(color=C_DASH, strokeDash=[6, 4], strokeWidth=1.3).encode(
            x=alt.X("t:Q", scale=xs, axis=None), y=alt.value(BY0), y2=alt.value(BY1)),
        rule_range(pd.concat([ranges_df(a_ranges, 0.05, 0.08), apdf[["t", "lo", "hi"]]], ignore_index=True),
                   xs, ys, C_AAVSO_ERR, 1.3),
        rule_range(ranges_df(a_ranges), xs, ys, C_AAVSO, 4.4, "round"),
        rule_range(gdf, xs, ys, C_G_ERR, 1.8),
        point_layer(pd.concat([apdf[["t", "m", "series"]], gdf[["t", "m", "series"]]], ignore_index=True),
                    xs, ys, 17, col),
    ]
    layers += frame_layers(xs, ys, x0, x1, BY0, BY1, xmaj, xmin, MAG_MAJ,
                           [v for v in frange(12.2, 17.8, 0.2) if abs(v - round(v)) > 1e-6],
                           6.5, 3.5, 1.0)
    layers.append(alt.Chart(pd.DataFrame({"v": MAG_MAJ})).mark_text(
        font=FONT, fontSize=10.5, align="right", baseline="alphabetic", dy=3.8, color="black").encode(
        x=alt.value(ylab_x), y=alt.Y("v:Q", scale=ys, axis=None), text=alt.Text("v:Q", format="d")))
    layers.append(alt.Chart(pd.DataFrame({"v": xmaj})).mark_text(
        font=FONT, fontSize=10.5, align="center", baseline="alphabetic", color="black").encode(
        x=alt.X("v:Q", scale=xs, axis=None), y=alt.value(908.3), text=alt.Text("v:Q", format="d")))
    layers.append(text_layer("ASAS-SN magnitude", ytitle_x, 763, 10.5, angle=270))
    layers.append(text_layer("HJD - 2457000", xtitle_cx, 919.3, 10.5))
    return alt.layer(*layers)


bl_panel = bottom_panel(35, 387.7, [2300, 2330], [82, 347], BL_G, BL_A, [], BL_DASH,
                        [2300, 2310, 2320, 2330], [v for v in range(2295, 2335) if v % 10 != 0],
                        182.7, 29.3, 14.8, 222.7)
br_panel = bottom_panel(445.7, 819.3, [2470, 2510], [487.3, 805.7], BR_G, BR_A, BR_A_POINTS, BR_DASH,
                        [2470, 2480, 2490, 2500, 2510], [v for v in range(2465, 2512) if v % 10 != 0],
                        592, 441.7, 425.3, 632.2)

chart = alt.layer(top_panel, bl_panel, br_panel).resolve_scale(
    x="independent", y="independent", color="independent").resolve_legend(
    color="independent").properties(
    width=925, height=923, padding=0, autosize=alt.AutoSizeParams(type="none"),
    background="white").configure_view(stroke=None)

chart.save("out.html", embed_options={"renderer": "svg", "actions": False})
